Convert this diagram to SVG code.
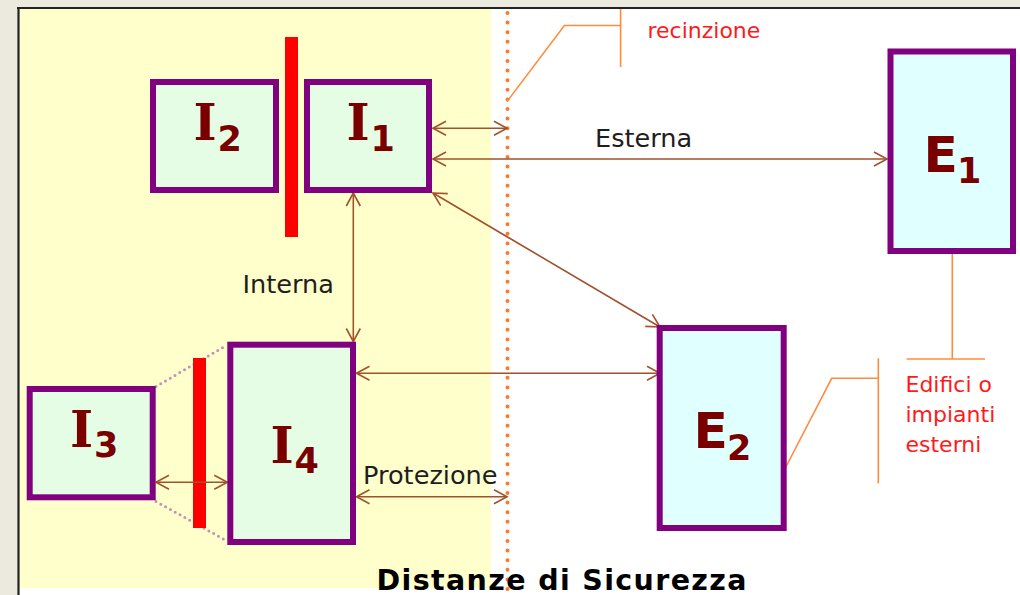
<svg xmlns="http://www.w3.org/2000/svg" width="1020" height="595" viewBox="0 0 1020 595">
  <style>
    .box-i { fill: #e4fde4; stroke: #800080; stroke-width: 6; }
    .box-e { fill: #e0ffff; stroke: #800080; stroke-width: 6; }
    .wall { fill: #ff0000; }
    .big { font-family: "DejaVu Sans", Verdana, sans-serif; font-weight: bold; fill: #7a0000; }
    .bigI { font-family: "DejaVu Serif", "Liberation Serif", serif; font-weight: bold; font-size: 49.5px; }
    .sub { font-size: 35px; }
    .conn { fill: none; stroke: #a0522d; stroke-width: 1.6; marker-start: url(#arr); marker-end: url(#arr); }
    .lead { fill: none; stroke: #ff8c3c; stroke-width: 1.6; }
    .lbl { font-family: "DejaVu Sans", Verdana, sans-serif; font-size: 25.6px; fill: #1e1e1e; }
    .red { font-family: "DejaVu Sans", Verdana, sans-serif; font-size: 22px; fill: #ff1a1a; }
    .dots { fill: none; stroke: #c890b8; stroke-width: 3; stroke-dasharray: 0 5.5; stroke-linecap: round; }
  </style>
  <defs>
    <marker id="arr" viewBox="-15 -9 17 18" markerUnits="userSpaceOnUse" markerWidth="17" markerHeight="18" refX="0" refY="0" orient="auto-start-reverse" overflow="visible">
      <path d="M-13,-7 L0,0 L-13,7" fill="none" stroke="#a0522d" stroke-width="1.6"/>
    </marker>
  </defs>

  <!-- background -->
  <rect x="0" y="0" width="1020" height="595" fill="#ece9df"/>
  <rect x="19" y="9" width="1001" height="586" fill="#ffffff"/>
  <rect x="19" y="9" width="472" height="579" fill="#ffffcc"/>
  <line x1="18.5" y1="8" x2="18.5" y2="595" stroke="#222" stroke-width="2.2"/>
  <line x1="17" y1="8" x2="1020" y2="8" stroke="#222" stroke-width="2.2"/>

  <!-- fence -->
  <g id="fence">
    <line x1="507.5" y1="13" x2="507.5" y2="595" stroke="#fb7a2c" stroke-width="4" stroke-dasharray="0 9.6" stroke-linecap="round"/>
  </g>

  <!-- walls -->
  <g id="wall1"><rect class="wall" x="285" y="37" width="13" height="200"/></g>
  <g id="wall2">
    <path class="dots" d="M156,386.5 L227,345 M156,501.5 L227,541"/>
    <rect class="wall" x="193" y="358" width="13" height="170"/>
  </g>

  <!-- connectors -->
  <g id="connectors">
    <line class="conn" x1="433" y1="128.3" x2="507" y2="128.3"/>
    <line class="conn" x1="433" y1="159" x2="887" y2="159"/>
    <line class="conn" x1="353.3" y1="193" x2="353.3" y2="341.5"/>
    <line class="conn" x1="433" y1="193" x2="660" y2="327"/>
    <line class="conn" x1="356.5" y1="373.3" x2="660" y2="373.3"/>
    <line class="conn" x1="356.5" y1="496.7" x2="507" y2="496.7"/>
    <line class="conn" x1="156" y1="482.3" x2="227.3" y2="482.3"/>
  </g>

  <!-- leaders -->
  <g id="leaders">
    <polyline class="lead" points="507,101.6 564.4,25.5 620.6,25.5"/>
    <line class="lead" x1="620.6" y1="9" x2="620.6" y2="67"/>
    <line class="lead" x1="952.3" y1="254" x2="952.3" y2="359"/>
    <line class="lead" x1="906.7" y1="359" x2="985" y2="359"/>
    <polyline class="lead" points="784.3,470 831.7,378.3 878.3,378.3"/>
    <line class="lead" x1="878.3" y1="358.3" x2="878.3" y2="483.3"/>
  </g>

  <!-- nodes -->
  <g id="I2">
    <rect class="box-i" x="153" y="82" width="123" height="108"/>
    <text class="big"><tspan class="bigI" x="193.5" y="140">I</tspan><tspan class="sub" x="217.5" y="151">2</tspan></text>
  </g>
  <g id="I1">
    <rect class="box-i" x="307" y="82" width="122" height="108"/>
    <text class="big"><tspan class="bigI" x="346.5" y="140">I</tspan><tspan class="sub" x="370.5" y="151">1</tspan></text>
  </g>
  <g id="I3">
    <rect class="box-i" x="29.7" y="389" width="123" height="108.3"/>
    <text class="big"><tspan class="bigI" x="70" y="446.7">I</tspan><tspan class="sub" x="94" y="456.7">3</tspan></text>
  </g>
  <g id="I4">
    <rect class="box-i" x="230.3" y="344.7" width="122.7" height="197.3"/>
    <text class="big"><tspan class="bigI" x="270.5" y="463.3">I</tspan><tspan class="sub" x="294.5" y="473.3">4</tspan></text>
  </g>
  <g id="E1">
    <rect class="box-e" x="890.5" y="51.5" width="122.5" height="199.5"/>
    <text class="big"><tspan x="923.5" y="171.7" font-size="50.3">E</tspan><tspan class="sub" x="957" y="182.7">1</tspan></text>
  </g>
  <g id="E2">
    <rect class="box-e" x="659.7" y="328" width="124" height="200"/>
    <text class="big"><tspan x="693.5" y="448.3" font-size="50.3">E</tspan><tspan class="sub" x="727" y="460">2</tspan></text>
  </g>

  <!-- labels -->
  <g id="labels">
    <text class="red" x="647.5" y="37.7">recinzione</text>
    <text class="red" x="905.5" y="391.7">Edifici o</text>
    <text class="red" x="905.5" y="422">impianti</text>
    <text class="red" x="905.5" y="452">esterni</text>
    <text class="lbl" x="595" y="146.7" font-size="25.2">Esterna</text>
    <text class="lbl" x="242.5" y="292.7">Interna</text>
    <text class="lbl" x="363" y="484">Protezione</text>
    <text x="376.5" y="590" font-family="DejaVu Sans, Verdana, sans-serif" font-weight="bold" font-size="28.5" fill="#000" textLength="370" lengthAdjust="spacing">Distanze di Sicurezza</text>
  </g>
</svg>
